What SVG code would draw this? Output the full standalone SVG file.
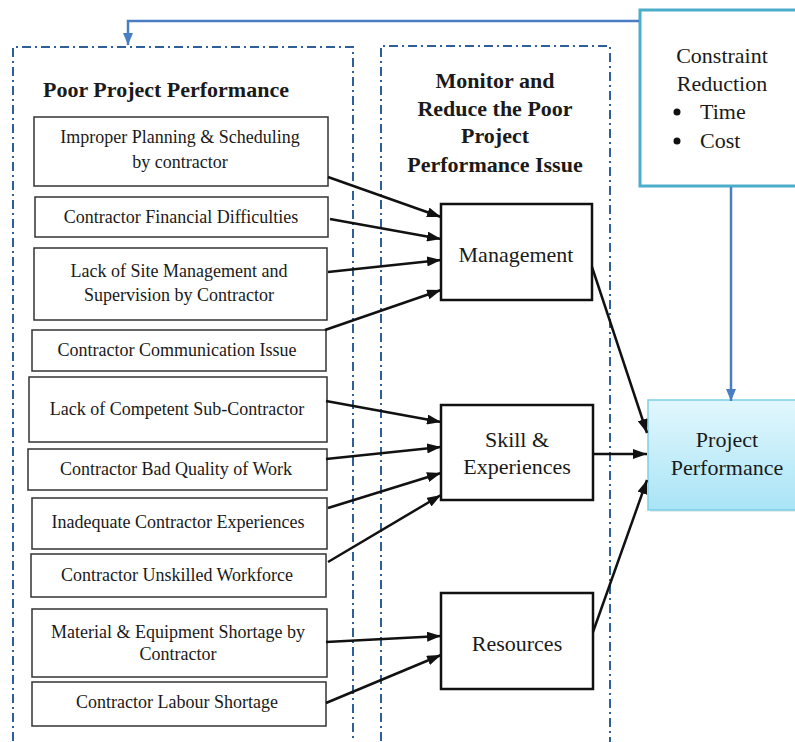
<svg xmlns="http://www.w3.org/2000/svg" width="795" height="742" viewBox="0 0 795 742">
<style>
.t{font-family:"Liberation Serif","Times New Roman",serif;fill:#1a1a1a;text-anchor:middle}
.s{font-size:18px}
.m{font-size:22px}
.b{font-size:22px;font-weight:bold}
.frame{fill:none;stroke:#2f5f98;stroke-width:2;stroke-dasharray:9 4 2 4}
.cause{fill:#fff;stroke:#333;stroke-width:1.5}
.mid{fill:#fff;stroke:#111;stroke-width:2.5}
.ar{stroke:#111;stroke-width:2.5;fill:none;marker-end:url(#ah)}
.bl{stroke:#4a7ec3;stroke-width:2.5;fill:none;marker-end:url(#bh)}
</style>
<defs>
<marker id="ah" markerUnits="userSpaceOnUse" viewBox="0 0 14 10" markerWidth="14" markerHeight="10" refX="14" refY="5" orient="auto">
<path d="M0,0 L14,5 L0,10 z" fill="#111"/>
</marker>
<marker id="bh" markerUnits="userSpaceOnUse" viewBox="0 0 12 10" markerWidth="12" markerHeight="10" refX="12" refY="5" orient="auto">
<path d="M0,0 L12,5 L0,10 z" fill="#4a7ec3"/>
</marker>
<linearGradient id="pg" x1="0" y1="0" x2="0" y2="1">
<stop offset="0" stop-color="#e2f7fd"/>
<stop offset="1" stop-color="#a9e4f6"/>
</linearGradient>
</defs>
<rect width="795" height="742" fill="#fff"/>

<g id="frames">
<path class="frame" d="M13,760 V47 H353 V760"/>
<path class="frame" d="M381,760 V46 H610 V760"/>
</g>

<g id="titles">
<text class="t b" x="166" y="97">Poor Project Performance</text>
<text class="t b" x="495" y="88">Monitor and</text>
<text class="t b" x="495" y="116">Reduce the Poor</text>
<text class="t b" x="495" y="143">Project</text>
<text class="t b" x="495" y="172">Performance Issue</text>
</g>

<g id="c1"><rect class="cause" x="34" y="117" width="294" height="69"/>
<text class="t s" x="180" y="143">Improper Planning &amp; Scheduling</text>
<text class="t s" x="180" y="168">by contractor</text></g>
<g id="c2"><rect class="cause" x="35" y="197" width="293" height="40"/>
<text class="t s" x="181" y="223">Contractor Financial Difficulties</text></g>
<g id="c3"><rect class="cause" x="34" y="248" width="293" height="72"/>
<text class="t s" x="179" y="277">Lack of Site Management and</text>
<text class="t s" x="179" y="301">Supervision by Contractor</text></g>
<g id="c4"><rect class="cause" x="32" y="330" width="294" height="41"/>
<text class="t s" x="177" y="356">Contractor Communication Issue</text></g>
<g id="c5"><rect class="cause" x="29" y="377" width="298" height="65"/>
<text class="t s" x="177" y="415">Lack of Competent Sub-Contractor</text></g>
<g id="c6"><rect class="cause" x="28" y="449" width="299" height="41"/>
<text class="t s" x="176" y="475">Contractor Bad Quality of Work</text></g>
<g id="c7"><rect class="cause" x="32" y="498" width="295" height="51"/>
<text class="t s" x="178" y="528">Inadequate Contractor Experiences</text></g>
<g id="c8"><rect class="cause" x="31" y="554" width="295" height="43"/>
<text class="t s" x="177" y="581">Contractor Unskilled Workforce</text></g>
<g id="c9"><rect class="cause" x="32" y="609" width="295" height="68"/>
<text class="t s" x="178" y="638">Material &amp; Equipment Shortage by</text>
<text class="t s" x="178" y="660">Contractor</text></g>
<g id="c10"><rect class="cause" x="32" y="682" width="294" height="44"/>
<text class="t s" x="177" y="708">Contractor Labour Shortage</text></g>

<g id="management"><rect class="mid" x="441" y="204" width="151" height="96"/>
<text class="t m" x="516" y="262">Management</text></g>
<g id="skill"><rect class="mid" x="441" y="405" width="152" height="95"/>
<text class="t m" x="517" y="447">Skill &amp;</text>
<text class="t m" x="517" y="474">Experiences</text></g>
<g id="resources"><rect class="mid" x="441" y="593" width="152" height="96"/>
<text class="t m" x="517" y="651">Resources</text></g>

<g id="constraint"><rect x="640" y="10" width="170" height="176" fill="#fff" stroke="#4aaecb" stroke-width="3"/>
<text class="t m" x="722" y="63">Constraint</text>
<text class="t m" x="722" y="91">Reduction</text>
<circle cx="677" cy="112" r="3.5" fill="#111"/>
<circle cx="677" cy="141" r="3.5" fill="#111"/>
<text class="t m" x="700" y="119" style="text-anchor:start">Time</text>
<text class="t m" x="700" y="148" style="text-anchor:start">Cost</text></g>

<g id="performance"><rect x="650" y="402" width="150" height="110" fill="#c8d8dc" opacity="0.5"/>
<rect x="648" y="400" width="150" height="110" fill="url(#pg)" stroke="#7ccfe6" stroke-width="1.5"/>
<text class="t m" x="727" y="447">Project</text>
<text class="t m" x="727" y="475">Performance</text></g>

<g id="connectors">
<line class="ar" x1="328" y1="177" x2="441" y2="217"/>
<line class="ar" x1="330" y1="219" x2="441" y2="239"/>
<line class="ar" x1="328" y1="272" x2="441" y2="260"/>
<line class="ar" x1="325" y1="330" x2="441" y2="290"/>
<line class="ar" x1="326" y1="401" x2="441" y2="422"/>
<line class="ar" x1="326" y1="459" x2="441" y2="447"/>
<line class="ar" x1="328" y1="508" x2="441" y2="473"/>
<line class="ar" x1="328" y1="562" x2="441" y2="495"/>
<line class="ar" x1="326" y1="642" x2="441" y2="636"/>
<line class="ar" x1="326" y1="703" x2="441" y2="655"/>
<line class="ar" x1="592" y1="267" x2="647" y2="433"/>
<line class="ar" x1="593" y1="454" x2="647" y2="454"/>
<line class="ar" x1="593" y1="632" x2="647" y2="480"/>
<line class="bl" x1="731" y1="187" x2="731" y2="401"/>
<polyline class="bl" points="639,21 128,21 128,45"/>
</g>
</svg>
